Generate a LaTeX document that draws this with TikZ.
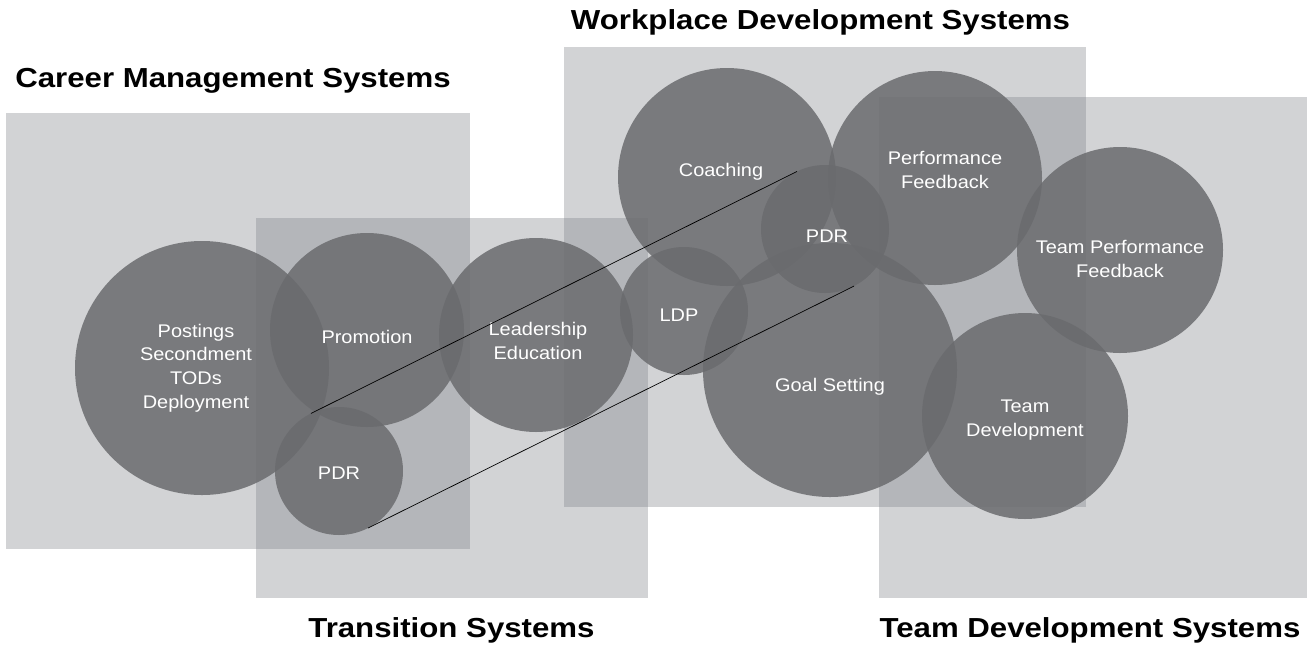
\documentclass[tikz,border=0pt]{standalone}
\usepackage{fontspec}
\newfontfamily\headfont{Liberation Sans}[FakeStretch=1.135]
\newfontfamily\bubblefont{Liberation Sans}[FakeStretch=1.09]
\definecolor{areagrey}{RGB}{124,127,134}
\definecolor{bubblegrey}{RGB}{106,107,110}
\begin{document}
\begin{tikzpicture}[x=1pt,y=-1pt,
  systembox/.style={fill=areagrey,fill opacity=0.34,draw=none},
  bubble/.style={circle,fill=bubblegrey,fill opacity=0.85,draw=none,
    inner sep=0pt,outer sep=0pt,minimum size=#1},
  bubbletext/.style={text=white,align=center,inner sep=0pt,
    font=\bubblefont\fontsize{18.3}{23.7}\selectfont},
  systemtitle/.style={anchor=base,inner sep=0pt,
    font=\headfont\bfseries\fontsize{27.5}{30}\selectfont},
  link/.style={draw=black,line width=0.7pt}]
\useasboundingbox (0,0) rectangle (1311,646);
\fill[white] (0,0) rectangle (1311,646);

% system areas
\fill[systembox] (6,113) rectangle (470,549);
\fill[systembox] (256,218) rectangle (648,598);
\fill[systembox] (564,47) rectangle (1086,507);
\fill[systembox] (879,97) rectangle (1307,598);

% titles
\node[systemtitle] (tcareer) at (233,87.3) {Career Management Systems};
\node[systemtitle] (tworkplace) at (820.5,29.3) {Workplace Development Systems};
\node[systemtitle] (ttransition) at (451.5,637.3) {Transition Systems};
\node[systemtitle] (tteam) at (1090,637.3) {Team Development Systems};

% bubbles
\node[bubble=254pt] (postings) at (202,368) {};
\node[bubble=194pt] (promotion) at (367,330) {};
\node[bubble=128pt] (pdra) at (339,471) {};
\node[bubble=194pt] (leadership) at (536,335) {};
\node[bubble=128pt] (ldp) at (684,311) {};
\node[bubble=218pt] (coaching) at (727,177) {};
\node[bubble=214pt] (perf) at (935,178) {};
\node[bubble=128pt] (pdrb) at (825,229) {};
\node[bubble=254pt] (goal) at (830,370) {};
\node[bubble=206pt] (teamperf) at (1120,250) {};
\node[bubble=206pt] (teamdev) at (1025,416) {};

% bubble labels
\node[bubbletext] (lpostings) at (196,368) {Postings\\Secondment\\TODs\\Deployment};
\node[bubbletext] (lpromotion) at (367,337) {Promotion};
\node[bubbletext] (lpdra) at (339,473) {PDR};
\node[bubbletext] (lleadership) at (538,341) {Leadership\\Education};
\node[bubbletext] (lldp) at (679,315) {LDP};
\node[bubbletext] (lcoaching) at (721,172) {Coaching};
\node[bubbletext] (lperf) at (945,170) {Performance\\Feedback};
\node[bubbletext] (lpdrb) at (827,236) {PDR};
\node[bubbletext] (lgoal) at (830,387) {Goal Setting};
\node[bubbletext] (lteamperf) at (1120,259) {Team Performance\\Feedback};
\node[bubbletext] (lteamdev) at (1025,420) {Team\\Development};

% the two PDR bubbles joined by their outer tangents
\draw[link] (pdra.116.5) -- (pdrb.116.5);
\draw[link] (pdra.-63.5) -- (pdrb.-63.5);
\end{tikzpicture}
\end{document}
